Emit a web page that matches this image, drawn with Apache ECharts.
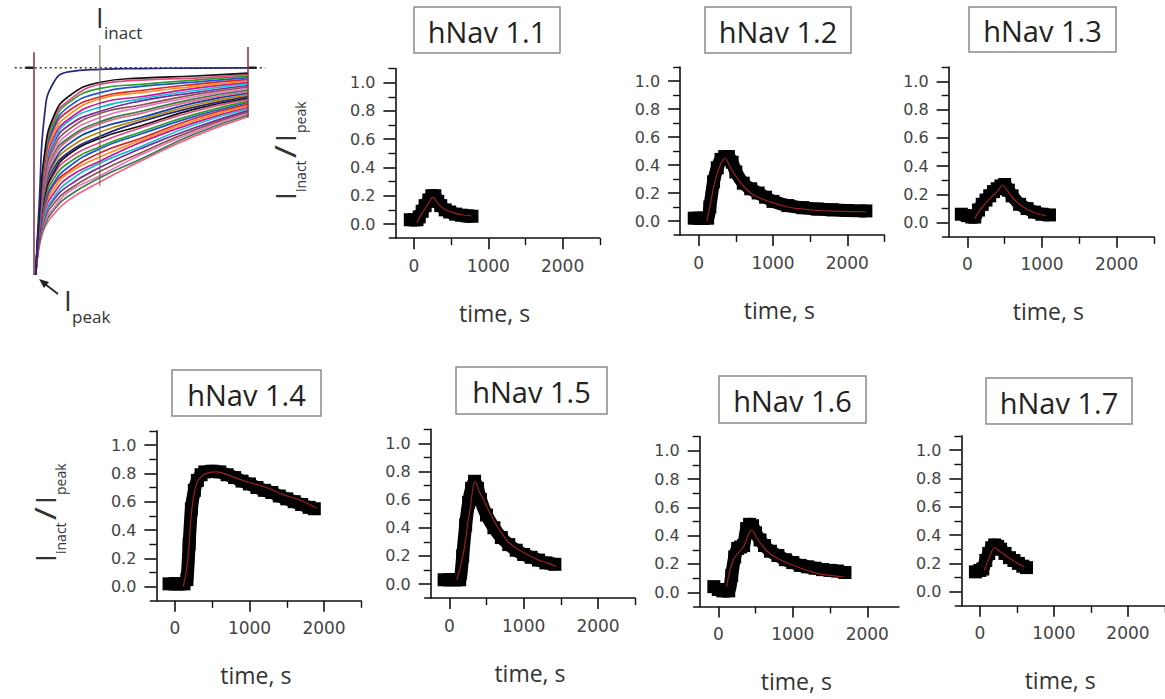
<!DOCTYPE html>
<html>
<head>
<meta charset="utf-8">
<script src="https://cdn.jsdelivr.net/npm/echarts@6.0.0/dist/echarts.min.js"></script>
<style>
html,body{margin:0;padding:0;background:#fff;}
#c{width:1165px;height:699px;}
</style>
</head>
<body>
<div id="c"></div>
<script>
// ---------- data ----------
const panelTitles = ['hNav 1.1','hNav 1.2','hNav 1.3','hNav 1.4','hNav 1.5','hNav 1.6','hNav 1.7'];
const xMajorTicks = [0, 1000, 2000];
const xMinorTicks = [500, 1500, 2500];
const yMajorTicks = [0, 0.2, 0.4, 0.6, 0.8, 1.0];
const yMinorTicks = [0.1, 0.3, 0.5, 0.7, 0.9, 1.1];
const xAxisName = 'time, s';

const data11 = [[-50,0.03],[0,0.03],[40,0.03],[70,0.05],[110,0.09],[150,0.13],[200,0.17],[240,0.2],[280,0.2],[320,0.16],[360,0.13],[420,0.1],[480,0.085],[560,0.07],[640,0.062],[720,0.057],[780,0.055]];
const fit11 = [[40,0.01],[100,0.07],[150,0.11],[200,0.15],[255,0.19],[300,0.16],[350,0.13],[400,0.11],[500,0.085],[600,0.07],[700,0.062],[770,0.058]];

const data12 = [[-60,0.02],[0,0.02],[60,0.02],[120,0.02],[150,0.1],[200,0.28],[250,0.38],[300,0.44],[350,0.46],[400,0.46],[450,0.42],[500,0.35],[600,0.27],[700,0.23],[800,0.2],[900,0.17],[1000,0.14],[1200,0.11],[1400,0.095],[1600,0.085],[1800,0.08],[2000,0.075],[2250,0.072]];
const fit12 = [[110,0.0],[150,0.1],[200,0.24],[250,0.34],[300,0.41],[355,0.45],[400,0.41],[450,0.36],[500,0.32],[600,0.25],[700,0.2],[800,0.17],[1000,0.13],[1200,0.1],[1400,0.085],[1600,0.075],[1800,0.07],[2000,0.068],[2250,0.066]];

const data13 = [[-80,0.06],[0,0.05],[60,0.04],[100,0.04],[150,0.09],[200,0.13],[250,0.16],[300,0.19],[350,0.22],[400,0.24],[450,0.26],[500,0.27],[550,0.23],[600,0.19],[700,0.13],[800,0.1],[900,0.075],[1000,0.06],[1100,0.055]];
const fit13 = [[100,0.03],[170,0.09],[250,0.14],[300,0.17],[400,0.22],[480,0.265],[520,0.24],[600,0.18],[700,0.13],[800,0.095],[900,0.07],[1050,0.05]];

const data14 = [[-80,0.02],[0,0.02],[60,0.02],[120,0.02],[160,0.05],[190,0.3],[220,0.55],[260,0.68],[300,0.75],[350,0.79],[400,0.81],[500,0.815],[600,0.81],[700,0.79],[800,0.77],[900,0.745],[1000,0.725],[1100,0.7],[1200,0.68],[1300,0.665],[1400,0.64],[1500,0.62],[1600,0.6],[1700,0.58],[1800,0.56],[1870,0.55]];
const fit14 = [[110,0],[150,0.1],[180,0.24],[225,0.54],[290,0.73],[360,0.78],[425,0.8],[560,0.81],[780,0.775],[1000,0.735],[1230,0.7],[1450,0.65],[1680,0.61],[1900,0.555]];

const data15 = [[-70,0.03],[0,0.03],[80,0.03],[140,0.03],[180,0.2],[220,0.42],[260,0.58],[300,0.68],[340,0.73],[380,0.68],[420,0.6],[500,0.49],[600,0.4],[700,0.33],[800,0.28],[900,0.24],[1000,0.21],[1100,0.19],[1200,0.17],[1300,0.15],[1420,0.14]];
const fit15 = [[100,0.03],[190,0.22],[240,0.4],[280,0.53],[347,0.73],[400,0.66],[460,0.6],[595,0.455],[775,0.31],[900,0.255],[1045,0.21],[1200,0.17],[1316,0.15],[1440,0.125]];

const data16 = [[-60,0.04],[0,0.02],[60,0.01],[140,0.01],[180,0.12],[220,0.25],[260,0.31],[300,0.32],[340,0.33],[380,0.45],[420,0.48],[460,0.47],[500,0.42],[560,0.37],[620,0.33],[700,0.29],[800,0.26],[900,0.23],[1000,0.21],[1100,0.19],[1200,0.18],[1300,0.17],[1400,0.16],[1500,0.155],[1600,0.15],[1700,0.14]];
const fit16 = [[112,0.04],[202,0.23],[336,0.32],[448,0.44],[520,0.38],[605,0.32],[700,0.27],[830,0.23],[1054,0.18],[1323,0.134],[1500,0.12],[1682,0.11]];

const data17 = [[-60,0.14],[0,0.15],[40,0.16],[80,0.22],[120,0.27],[160,0.31],[200,0.33],[240,0.32],[280,0.3],[340,0.27],[400,0.24],[460,0.22],[520,0.2],[580,0.18],[630,0.17]];
const fit17 = [[60,0.15],[135,0.25],[200,0.31],[280,0.28],[360,0.25],[450,0.22],[540,0.19],[600,0.175]];

const panelData = [data11, data12, data13, data14, data15, data16, data17];
const panelFits = [fit11, fit12, fit13, fit14, fit15, fit16, fit17];
const panelXMax = [2500, 2500, 2500, 2500, 2500, 2425, 2500];

// current traces (normalised current vs time, illustrative family)
const traceTimes = [0.8, 2.5, 5, 9, 16, 31, 50, 75, 100];
const traceCurrents = [
 [-1,-0.64,-0.22,-0.075,-0.02,-0.008,-0.004,-0.002,-0.001],
 [-1,-0.71,-0.41,-0.24,-0.14,-0.07,-0.05,-0.04,-0.026],
 [-1,-0.71,-0.43,-0.25,-0.16,-0.08,-0.06,-0.05,-0.033],
 [-1,-0.72,-0.44,-0.27,-0.17,-0.10,-0.08,-0.06,-0.041],
 [-1,-0.72,-0.45,-0.29,-0.19,-0.12,-0.09,-0.07,-0.048],
 [-1,-0.73,-0.46,-0.30,-0.21,-0.14,-0.11,-0.08,-0.056],
 [-1,-0.73,-0.48,-0.32,-0.23,-0.15,-0.12,-0.09,-0.063],
 [-1,-0.74,-0.49,-0.34,-0.25,-0.17,-0.14,-0.10,-0.071],
 [-1,-0.74,-0.50,-0.36,-0.26,-0.19,-0.15,-0.11,-0.078],
 [-1,-0.75,-0.51,-0.37,-0.28,-0.21,-0.16,-0.12,-0.086],
 [-1,-0.76,-0.53,-0.39,-0.30,-0.22,-0.18,-0.13,-0.093],
 [-1,-0.76,-0.54,-0.41,-0.32,-0.24,-0.19,-0.14,-0.101],
 [-1,-0.77,-0.55,-0.42,-0.34,-0.26,-0.21,-0.15,-0.108],
 [-1,-0.77,-0.57,-0.44,-0.35,-0.27,-0.22,-0.16,-0.116],
 [-1,-0.78,-0.58,-0.46,-0.37,-0.29,-0.24,-0.17,-0.123],
 [-1,-0.78,-0.59,-0.47,-0.39,-0.31,-0.25,-0.18,-0.131],
 [-1,-0.79,-0.60,-0.49,-0.41,-0.33,-0.26,-0.19,-0.138],
 [-1,-0.79,-0.62,-0.51,-0.42,-0.34,-0.28,-0.20,-0.146],
 [-1,-0.80,-0.63,-0.52,-0.44,-0.36,-0.29,-0.21,-0.153],
 [-1,-0.80,-0.64,-0.54,-0.46,-0.38,-0.31,-0.225,-0.161],
 [-1,-0.81,-0.66,-0.56,-0.48,-0.39,-0.32,-0.235,-0.168],
 [-1,-0.82,-0.67,-0.57,-0.50,-0.41,-0.34,-0.245,-0.176],
 [-1,-0.82,-0.68,-0.59,-0.51,-0.43,-0.35,-0.255,-0.183],
 [-1,-0.83,-0.69,-0.61,-0.53,-0.45,-0.36,-0.265,-0.191],
 [-1,-0.83,-0.71,-0.63,-0.55,-0.46,-0.38,-0.275,-0.198],
 [-1,-0.84,-0.72,-0.64,-0.57,-0.48,-0.39,-0.29,-0.206],
 [-1,-0.84,-0.73,-0.66,-0.59,-0.50,-0.41,-0.30,-0.213],
 [-1,-0.85,-0.74,-0.68,-0.60,-0.52,-0.42,-0.31,-0.221],
 [-1,-0.85,-0.76,-0.69,-0.62,-0.53,-0.44,-0.32,-0.228],
 [-1,-0.86,-0.77,-0.71,-0.64,-0.55,-0.45,-0.33,-0.236]
];
const onsetLine = [[0, 0.075], [0, -1]];
const inactMarker = [[30.8, 0.11], [30.8, -0.57]];
const offsetLine = [[100, 0.1], [100, -0.24]];
const baselineDotted = [[-9, 0], [108, 0]];
const baselinePre = [[-4, 0], [0, 0]];
const baselinePost = [[100, 0], [104, 0]];

// ---------- layout (pixels) ----------
const panelGeom = [
  {x0:414,   sx:74.3,  y0:224,   sy:141.3},
  {x0:698.7, sx:74.3,  y0:221,   sy:140.0},
  {x0:967.3, sx:74.7,  y0:222.7, sy:141.4},
  {x0:175,   sx:74.5,  y0:586.7, sy:141.7},
  {x0:449.3, sx:74.35, y0:584,   sy:140.7},
  {x0:718.3, sx:74.5,  y0:592.3, sy:141.6},
  {x0:980,   sx:74.5,  y0:591.7, sy:141.7}
];
const titleBoxes = [
  [414,7,146,46],[705,7,146,46],[969,7,147,45],
  [172,370,149,46],[456,367,151,47],[719,376,147,47],[986,378,146,46]
];
const EXT = 6;

const traceColors = ['#27277a','#111111','#e8457c','#2ca02c','#2452d6','#d62728','#ff8c1a','#c2189b','#17becf','#7b2a9e','#8c564b','#e377c2','#3a7d44','#f06292','#0d47a1','#b8860b'];

const grids = [], xAxes = [], yAxes = [], series = [];

grids.push({left: 34 - 9*2.14, top: 67.7 - 0.15*207.3, width: 117*2.14, height: 1.2*207.3});
xAxes.push({type:'value', gridIndex:0, min:-9, max:108, show:false});
yAxes.push({type:'value', gridIndex:0, min:-1.05, max:0.15, show:false});

function seg(data, color, width, type, z) {
  series.push({type:'line', xAxisIndex:0, yAxisIndex:0, data:data, showSymbol:false, silent:true,
    lineStyle:{color:color, width:width, type:type||'solid'}, z:z||2});
}
seg(baselineDotted, '#333', 1.6, [2,3], 1);
seg(baselinePre, '#222', 2.5, 'solid', 1);
seg(baselinePost, '#222', 2.5, 'solid', 1);
traceCurrents.slice().reverse().forEach(function(cur, ri) {
  const i = traceCurrents.length - 1 - ri;
  series.push({type:'line', xAxisIndex:0, yAxisIndex:0, silent:true,
    data: traceTimes.map(function(t, j){ return [t, cur[j]]; }),
    showSymbol:false, smooth:0.5,
    lineStyle:{color: traceColors[i % traceColors.length], width:1.7}, z:2});
});
seg(onsetLine, '#8b3a4a', 1.6, 'solid', 3);
seg(offsetLine, '#8b3a4a', 1.6, 'solid', 3);
seg(inactMarker, '#6b6b55', 1.1, 'solid', 4);

const axisColor = '#111';
panelGeom.forEach(function(g, p) {
  const gi = p + 1;
  const xmax = panelXMax[p];
  const xmin = -250 - EXT * 1000 / g.sx;
  const left = g.x0 + xmin * g.sx / 1000;
  grids.push({left:left, top: g.y0 - 1.1*g.sy, width:(xmax - xmin) * g.sx / 1000, height:1.2*g.sy});
  xAxes.push({type:'value', gridIndex:gi, min:xmin, max:xmax, position:'bottom',
    axisLine:{show:true, onZero:false, lineStyle:{color:axisColor, width:1.6}},
    axisTick:{show:true, inside:false, length:11, customValues:xMajorTicks, lineStyle:{color:axisColor, width:1.6}},
    axisLabel:{show:true, customValues:xMajorTicks, margin:19, formatter:function(v){return String(v);},
      fontFamily:'DejaVu Sans', fontSize:17, color:'#444'},
    splitLine:{show:false},
    name:xAxisName, nameLocation:'middle', nameGap:63,
    nameTextStyle:{fontFamily:'Open Sans', fontSize:23, color:'#333'}});
  xAxes.push({type:'value', gridIndex:gi, min:xmin, max:xmax, position:'bottom',
    axisLine:{show:false, onZero:false}, axisLabel:{show:false}, splitLine:{show:false},
    axisTick:{show:true, inside:false, length:7, customValues:xMinorTicks.filter(function(v){return v<=xmax;}), lineStyle:{color:axisColor, width:1.4}}});
  yAxes.push({type:'value', gridIndex:gi, min:-0.1, max:1.1, position:'left', offset:-EXT,
    axisLine:{show:true, onZero:false, lineStyle:{color:axisColor, width:1.6}},
    axisTick:{show:true, inside:false, length:12, customValues:yMajorTicks, lineStyle:{color:axisColor, width:1.6}},
    axisLabel:{show:true, customValues:yMajorTicks, margin:20, formatter:function(v){return v.toFixed(1);},
      fontFamily:'DejaVu Sans', fontSize:16, color:'#444'},
    splitLine:{show:false}});
  yAxes.push({type:'value', gridIndex:gi, min:-0.1, max:1.1, position:'left', offset:-EXT,
    axisLine:{show:false, onZero:false}, axisLabel:{show:false}, splitLine:{show:false},
    axisTick:{show:true, inside:false, length:7, customValues:yMinorTicks, lineStyle:{color:axisColor, width:1.4}}});
  const xi = 1 + 2*p, yi = 1 + 2*p;
  series.push({type:'line', xAxisIndex:xi, yAxisIndex:yi, data:panelData[p], silent:true,
    smooth:0.2, symbol:'rect', symbolSize:13, showSymbol:true,
    itemStyle:{color:'#000'}, lineStyle:{color:'#000', width:13, join:'round'}, z:2});
  series.push({type:'line', xAxisIndex:xi, yAxisIndex:yi, data:panelFits[p], silent:true,
    smooth:0.4, showSymbol:false, lineStyle:{color:'#9a1f22', width:1.2}, z:3});
});

// ---------- graphics: titles and annotations ----------
const graphic = [];
titleBoxes.forEach(function(b, i) {
  graphic.push({type:'rect', shape:{x:b[0], y:b[1], width:b[2], height:b[3]},
    style:{fill:'#fff', stroke:'#8a8a8a', lineWidth:1.5}, z:10, silent:true});
  graphic.push({type:'text', x:b[0] + b[2]/2, y:b[1] + b[3]/2 + 1, z:11, silent:true,
    style:{text:panelTitles[i], fill:'#222', font:'29px "Open Sans"', align:'center', verticalAlign:'middle'}});
});

function yTitle(gx, gy) {
  graphic.push({type:'group', x:gx, y:gy, rotation:Math.PI/2, silent:true, z:10, children:[
    {type:'text', x:0,  y:-10, style:{text:'I', fill:'#333', font:'28px "Open Sans"', align:'left', verticalAlign:'middle'}},
    {type:'text', x:8,  y:5,   style:{text:'inact', fill:'#333', font:'14px "Open Sans"', align:'left', verticalAlign:'middle'}},
    {type:'text', x:42, y:-10, scaleX:1.2, style:{text:'/', fill:'#333', font:'29px "Open Sans"', align:'left', verticalAlign:'middle'}},
    {type:'text', x:58, y:-10, style:{text:'I', fill:'#333', font:'28px "Open Sans"', align:'left', verticalAlign:'middle'}},
    {type:'text', x:67, y:5,   style:{text:'peak', fill:'#333', font:'14px "Open Sans"', align:'left', verticalAlign:'middle'}}
  ]});
}
yTitle(295, 200);
yTitle(55, 562);

graphic.push({type:'text', x:96, y:17, silent:true, z:10,
  style:{text:'I', fill:'#333', font:'27px "Open Sans"', align:'left', verticalAlign:'middle'}});
graphic.push({type:'text', x:104, y:32, silent:true, z:10,
  style:{text:'inact', fill:'#333', font:'17px "Open Sans"', align:'left', verticalAlign:'middle'}});
graphic.push({type:'text', x:64, y:300, silent:true, z:10,
  style:{text:'I', fill:'#333', font:'28px "Open Sans"', align:'left', verticalAlign:'middle'}});
graphic.push({type:'text', x:72, y:316, silent:true, z:10,
  style:{text:'peak', fill:'#333', font:'17px "Open Sans"', align:'left', verticalAlign:'middle'}});
graphic.push({type:'line', shape:{x1:58, y1:294, x2:45, y2:284}, silent:true, z:10,
  style:{stroke:'#222', lineWidth:1.6}});
graphic.push({type:'polygon', shape:{points:[[39,279],[49,282],[44,288]]}, silent:true, z:10,
  style:{fill:'#222'}});

const chart = echarts.init(document.getElementById('c'), null, {renderer:'svg', width:1165, height:699});
chart.setOption({
  animation:false,
  backgroundColor:'#fff',
  grid:grids, xAxis:xAxes, yAxis:yAxes, series:series, graphic:graphic
});
</script>
</body>
</html>
